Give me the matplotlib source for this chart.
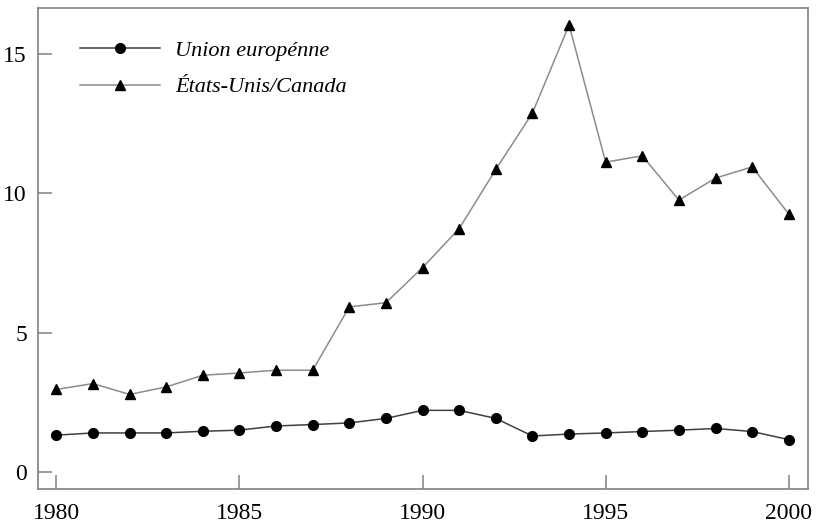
import matplotlib
matplotlib.use("Agg")
import matplotlib.pyplot as plt

years = list(range(1980, 2001))
union_europeenne = [1.33, 1.41, 1.41, 1.41, 1.47, 1.51, 1.66, 1.71, 1.77, 1.93, 2.22,
                    2.22, 1.93, 1.30, 1.37, 1.41, 1.46, 1.51, 1.57, 1.46, 1.17]
etats_unis_canada = [2.97, 3.18, 2.79, 3.06, 3.48, 3.56, 3.66, 3.66, 5.93, 6.08, 7.34,
                     8.74, 10.86, 12.88, 16.04, 11.12, 11.35, 9.76, 10.55, 10.95, 9.26]
x_ticks = [1980, 1985, 1990, 1995, 2000]
y_ticks = [0, 5, 10, 15]

plt.rcParams['font.family'] = ['Liberation Serif', 'DejaVu Serif']

fig = plt.figure(figsize=(8.16, 5.25), dpi=100)
ax = fig.add_axes([0.0466, 0.0686, 0.9434, 0.9162])

ax.plot(years, union_europeenne, color='#404040', lw=1.1, marker='o', ms=7,
        mfc='black', mec='black', label='Union europénne')
ax.plot(years, etats_unis_canada, color='#8c8c8c', lw=1.1, marker='^', ms=7,
        mfc='black', mec='black', label='États-Unis/Canada')

ax.set_xlim(1979.5, 2000.52)
ax.set_ylim(-0.6, 16.65)
ax.set_xticks(x_ticks)
ax.set_yticks(y_ticks)

for s in ax.spines.values():
    s.set_color('#808080')
    s.set_linewidth(1.2)
ax.tick_params(direction='in', length=10, width=1.1, color='#808080',
               labelsize=17)
ax.tick_params(axis='x', pad=10)
ax.tick_params(axis='y', pad=8)

leg = ax.legend(loc='upper left', bbox_to_anchor=(0.029, 0.975), frameon=False,
                handlelength=3.6, handletextpad=0.68, labelspacing=0.73,
                prop={'family': 'Liberation Serif', 'style': 'italic', 'size': 16})

fig.savefig('out.png', dpi=100)
